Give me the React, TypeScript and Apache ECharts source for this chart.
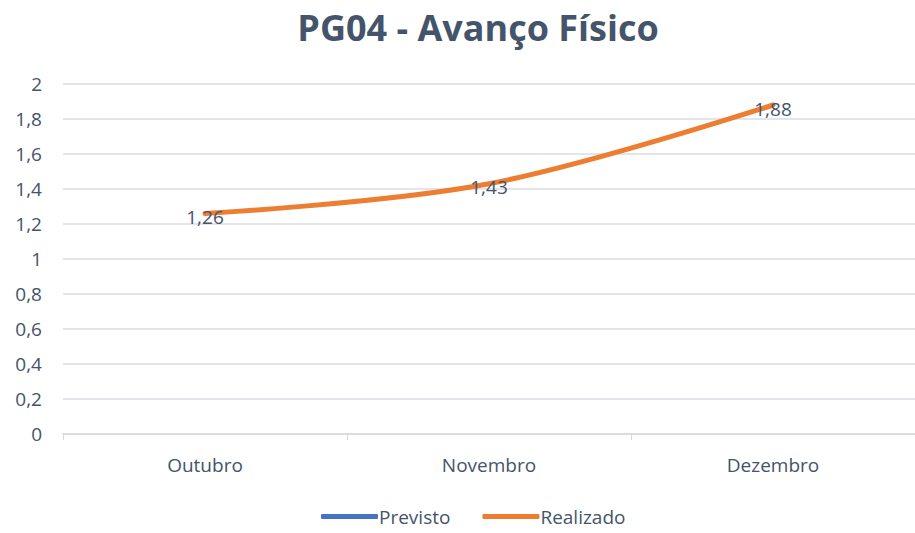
import React, { useEffect, useRef } from "react";
import * as echarts from "echarts";

const categories = ["Outubro", "Novembro", "Dezembro"];
const previsto: (number | null)[] = [];
const realizado = [1.26, 1.43, 1.88];
const yTicks = [0, 0.2, 0.4, 0.6, 0.8, 1, 1.2, 1.4, 1.6, 1.8, 2];

const textColor = "#44546A";
const font = "'Open Sans', 'Liberation Sans', sans-serif";
const fmt = (v: number) => String(v).replace(".", ",");

export default function App() {
  const ref = useRef<HTMLDivElement>(null);
  useEffect(() => {
    if (!ref.current) return;
    const chart = echarts.init(ref.current, null, { renderer: "svg" });
    chart.setOption({
      animation: false,
      title: {
        text: "PG04 - Avanço Físico",
        left: 473,
        textAlign: "center",
        top: 4,
        textStyle: { color: textColor, fontSize: 36, fontWeight: "bold", fontFamily: font },
      },
      legend: {
        bottom: 2,
        left: 316,
        itemWidth: 57,
        itemHeight: 5,
        itemGap: 32,
        icon: "roundRect",
        textStyle: { color: textColor, fontSize: 19, fontFamily: font, padding: [0, 0, 0, -4] },
        data: ["Previsto", "Realizado"],
      },
      grid: { left: 63, top: 84, width: 861, height: 350, containLabel: false },
      xAxis: {
        type: "category",
        data: categories,
        boundaryGap: true,
        axisLine: { lineStyle: { color: "#D9D9D9", width: 1.5 } },
        axisTick: { show: true, lineStyle: { color: "#D9D9D9" }, length: 6 },
        axisLabel: { color: textColor, fontSize: 19, fontFamily: font, margin: 21 },
      },
      yAxis: {
        type: "value",
        min: 0,
        max: 2,
        interval: 0.2,
        axisLine: { show: false },
        axisTick: { show: false },
        splitLine: { lineStyle: { color: "#E2E5EC", width: 2 } },
        axisLabel: {
          color: textColor,
          fontSize: 19,
          fontFamily: font,
          margin: 21,
          formatter: (v: number) => {
            const t = yTicks.find((x) => Math.abs(x - v) < 1e-9);
            return fmt(t !== undefined ? t : Math.round(v * 10) / 10);
          },
        },
      },
      series: [
        {
          name: "Previsto",
          type: "line",
          data: previsto,
          smooth: true,
          showSymbol: false,
          lineStyle: { color: "#4472C4", width: 5 },
          itemStyle: { color: "#4472C4" },
        },
        {
          name: "Realizado",
          type: "line",
          data: realizado,
          smooth: 0.35,
          symbol: "circle",
          symbolSize: 2,
          showSymbol: true,
          lineStyle: { color: "#ED7D31", width: 5, cap: "round" },
          itemStyle: { color: "#ED7D31" },
          label: {
            show: true,
            position: "top",
            distance: 0,
            offset: [0, 14],
            color: textColor,
            fontSize: 19,
            fontFamily: font,
            formatter: (p: any) => fmt(p.value),
          },
        },
      ],
    });
    return () => chart.dispose();
  }, []);
  return <div ref={ref} style={{ width: 915, height: 533, position: "absolute", left: 0, top: 0 }} />;
}
